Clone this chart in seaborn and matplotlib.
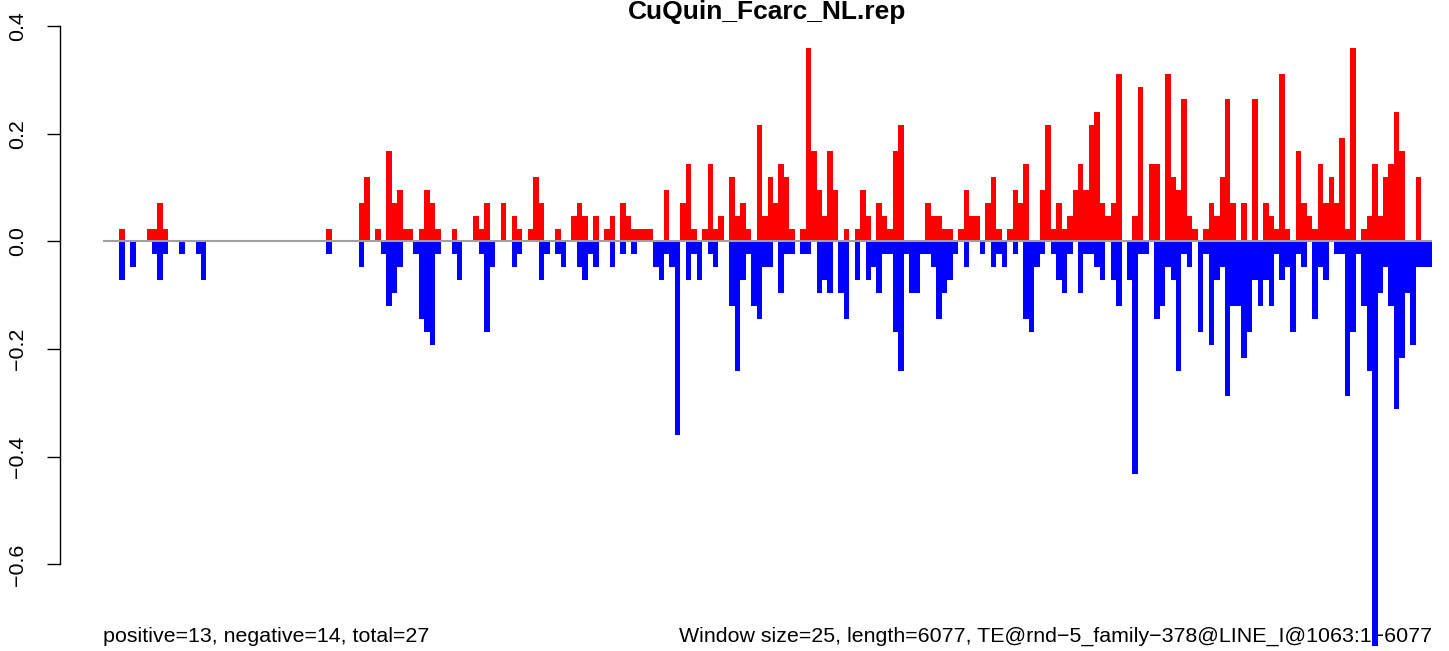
import numpy as np
import pandas as pd
import matplotlib
matplotlib.use("Agg")
import matplotlib.pyplot as plt
import seaborn as sns


# -----------------------------
# DATA (one value per 25-bp window)
# -----------------------------
pos_vals = [
    0, 0, 0, 0.024, 0, 0, 0, 0, 0.024, 0.024, 0.072, 0.024, 0, 0, 0, 0, 0, 0, 0, 0,
    0, 0, 0, 0, 0, 0, 0, 0, 0, 0, 0, 0, 0, 0, 0, 0, 0, 0, 0, 0,
    0, 0.024, 0, 0, 0, 0, 0, 0.072, 0.12, 0, 0.024, 0, 0.168, 0.072, 0.096, 0.024, 0.024, 0, 0.024, 0.096,
    0.072, 0.024, 0, 0, 0.024, 0, 0, 0, 0.048, 0.024, 0.072, 0, 0, 0.072, 0, 0.048, 0.024, 0, 0.024, 0.12,
    0.072, 0, 0, 0.024, 0, 0, 0.048, 0.072, 0.048, 0, 0.048, 0, 0.024, 0.048, 0, 0.072, 0.048, 0.024, 0.024, 0.024,
    0.024, 0, 0, 0.096, 0, 0, 0.072, 0.144, 0.024, 0, 0.024, 0.144, 0.024, 0.048, 0, 0.12, 0.048, 0.072, 0.024, 0,
    0.216, 0.048, 0.12, 0.072, 0.144, 0.12, 0.024, 0, 0.024, 0.36, 0.168, 0.096, 0.048, 0.168, 0.096, 0, 0.024, 0, 0.024, 0.096,
    0.048, 0, 0.072, 0.048, 0.024, 0.168, 0.216, 0, 0, 0, 0, 0.072, 0.048, 0.048, 0.024, 0.024, 0, 0.024, 0.096, 0.048,
    0.048, 0, 0.072, 0.12, 0.024, 0, 0.024, 0.096, 0.072, 0.144, 0, 0, 0.096, 0.216, 0.024, 0.072, 0.024, 0.048, 0.096, 0.144,
    0.096, 0.216, 0.24, 0.072, 0.048, 0.072, 0.312, 0, 0, 0.048, 0.288, 0, 0.144, 0.144, 0, 0.312, 0.12, 0.096, 0.264, 0.048,
    0.024, 0, 0.024, 0.072, 0.048, 0.12, 0.264, 0.072, 0, 0.072, 0, 0.264, 0, 0.072, 0.048, 0.024, 0.312, 0.024, 0, 0.168,
    0.072, 0.048, 0.024, 0.144, 0.072, 0.12, 0.072, 0.192, 0.024, 0.36, 0, 0.024, 0.048, 0.144, 0.048, 0.12, 0.144, 0.24, 0.168, 0,
    0, 0.12, 0, 0,
]

neg_vals = [
    0, 0, 0, -0.072, 0, -0.048, 0, 0, 0, -0.024, -0.072, -0.024, 0, 0, -0.024, 0, 0, -0.024, -0.072, 0,
    0, 0, 0, 0, 0, 0, 0, 0, 0, 0, 0, 0, 0, 0, 0, 0, 0, 0, 0, 0,
    0, -0.024, 0, 0, 0, 0, 0, -0.048, 0, 0, 0, -0.024, -0.12, -0.096, -0.048, 0, 0, -0.024, -0.144, -0.168,
    -0.192, -0.024, 0, 0, -0.024, -0.072, 0, 0, 0, -0.024, -0.168, -0.048, 0, 0, 0, -0.048, -0.024, 0, 0, 0,
    -0.072, -0.024, 0, -0.024, -0.048, 0, 0, -0.048, -0.072, -0.024, -0.048, 0, 0, -0.048, 0, -0.024, 0, -0.024, 0, 0,
    0, -0.048, -0.072, -0.024, -0.048, -0.36, 0, -0.072, -0.024, -0.072, 0, -0.024, -0.048, 0, 0, -0.12, -0.24, -0.072, -0.024, -0.12,
    -0.144, -0.048, -0.048, 0, -0.096, -0.024, -0.024, 0, -0.024, -0.024, 0, -0.096, -0.072, -0.096, 0, -0.096, -0.144, 0, -0.072, 0,
    -0.072, -0.048, -0.096, -0.024, -0.024, -0.168, -0.24, -0.024, -0.096, -0.096, -0.024, -0.024, -0.048, -0.144, -0.096, -0.072, -0.024, 0, -0.048, 0,
    0, -0.024, 0, -0.048, -0.024, -0.048, 0, -0.024, 0, -0.144, -0.168, -0.048, -0.024, 0, -0.024, -0.072, -0.096, -0.024, 0, -0.096,
    -0.024, -0.024, -0.048, -0.072, 0, -0.072, -0.12, 0, -0.072, -0.432, -0.024, -0.024, 0, -0.144, -0.12, -0.048, -0.072, -0.24, -0.024, -0.048,
    0, -0.168, -0.024, -0.192, -0.072, -0.048, -0.288, -0.12, -0.12, -0.216, -0.168, -0.072, -0.12, -0.072, -0.12, -0.024, -0.072, -0.048, -0.168, -0.024,
    -0.048, 0, -0.144, -0.048, -0.072, 0, -0.024, -0.024, -0.288, -0.168, -0.024, -0.12, -0.24, -0.752, -0.096, -0.048, -0.12, -0.312, -0.216, -0.096,
    -0.192, -0.048, -0.048, -0.048,
]

windows = np.arange(len(pos_vals))

title = "CuQuin_Fcarc_NL.rep"
left_note = "positive=13, negative=14, total=27"
right_note = "Window size=25, length=6077, TE@rnd\u22125_family\u2212378@LINE_I@1063:1\u22126077"

y_ticks = [0.4, 0.2, 0.0, -0.2, -0.4, -0.6]
y_ticklabels = ["0.4", "0.2", "0.0", "\u22120.2", "\u22120.4", "\u22120.6"]

df = pd.DataFrame({"window": windows, "pos": pos_vals, "neg": neg_vals})

# -----------------------------
# STYLE
# -----------------------------
sns.set_style("white")
plt.rcParams["font.family"] = ["Liberation Sans", "DejaVu Sans"]
plt.rcParams["text.color"] = "black"
plt.rcParams["ytick.color"] = "black"

W, H = 1449, 651
fig = plt.figure(figsize=(W / 100, H / 100), dpi=100)
ax = fig.add_axes([103 / W, 0.6 / H, 1329 / W, 629.5 / H])

# -----------------------------
# BARS
# -----------------------------
sns.barplot(data=df, x="window", y="pos", color="#FF0000", saturation=1,
            width=1, linewidth=0, errorbar=None, orient="x", ax=ax, zorder=2)
sns.barplot(data=df, x="window", y="neg", color="#0000FF", saturation=1,
            width=1, linewidth=0, errorbar=None, orient="x", ax=ax, zorder=2)

ax.axhline(0, color="#A0A0A0", lw=1.5, zorder=3)

ax.set_xlim(-0.5, len(windows) - 0.5)
ax.set_ylim(-0.76, 0.41)

# -----------------------------
# AXES
# -----------------------------
ax.set_xlabel("")
ax.set_ylabel("")
ax.set_xticks([])
for side in ["top", "right", "bottom"]:
    ax.spines[side].set_visible(False)
ax.spines["left"].set_position(("outward", 31))
ax.spines["left"].set_bounds(-0.6, 0.4)
ax.spines["left"].set_linewidth(1.0)
ax.spines["left"].set_color("black")

ax.set_yticks(y_ticks)
ax.set_yticklabels(y_ticklabels, rotation=90, va="center")
ax.tick_params(axis="y", direction="out", length=9.5, width=1.0,
               labelsize=15.4, pad=14, colors="black", labelcolor="black",
               left=True)

# -----------------------------
# TEXT
# -----------------------------
fig.text(767 / W, (H - 12) / H, title, ha="center", va="center",
         fontsize=19, fontweight="bold", color="black")
ax.text(103 / W, (H - 636) / H, left_note, transform=fig.transFigure,
        ha="left", va="center", fontsize=15.4, color="black", zorder=1)
ax.text(1432 / W, (H - 636) / H, right_note, transform=fig.transFigure,
        ha="right", va="center", fontsize=15.4, color="black", zorder=1)

fig.savefig("out.png", dpi=100)
